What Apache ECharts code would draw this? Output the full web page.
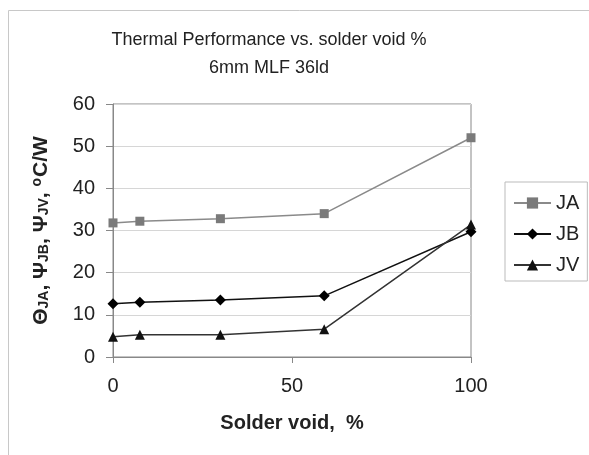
<!DOCTYPE html>
<html>
<head>
<meta charset="utf-8">
<script src="https://cdn.jsdelivr.net/npm/echarts@6/dist/echarts.min.js"></script>
<style>
  html, body { margin: 0; padding: 0; background: #fff; }
  #main { width: 589px; height: 455px; }
</style>
</head>
<body>
<div id="main"></div>
<script>
// solder void (%) on x
const voidPct = [0, 7.5, 30, 59, 100];
// thermal values, °C/W
const jaVals = [31.8, 32.2, 32.8, 34.0, 52.0];
const jbVals = [12.6, 13.0, 13.5, 14.5, 29.7];
const jvVals = [4.8, 5.3, 5.3, 6.6, 31.4];
const seriesNames = ['JA', 'JB', 'JV'];

// x,y pairs for the value axis
function toPairs(xs, ys) {
    let out = [];
    for (let i = 0; i < xs.length; i++) {
        out.push([xs[i], ys[i]]);
    }
    return out;
}

const font = 'Liberation Sans, Arial, sans-serif';
let myChart = echarts.init(document.getElementById('main'));

let option = {
    backgroundColor: '#fff',
    animation: false,
    textStyle: { fontFamily: font, color: '#222' },
    graphic: [{
        type: 'rect',
        shape: { x: 8.5, y: 10.5, width: 620, height: 500 },
        style: { fill: 'none', stroke: '#c8c8c8', lineWidth: 1 },
        silent: true
    }],
    title: {
        text: 'Thermal Performance vs. solder void %\n6mm MLF 36ld',
        left: 264,
        textAlign: 'center',
        top: 21,
        textStyle: { fontFamily: font, fontSize: 18, fontWeight: 'normal', color: '#222', lineHeight: 28 }
    },
    legend: {
        data: seriesNames,
        orient: 'vertical',
        left: 505,
        top: 182,
        padding: [11, 8, 6, 8],
        itemGap: 11,
        itemWidth: 37,
        itemHeight: 14,
        borderColor: '#bbb',
        borderWidth: 1,
        textStyle: { fontFamily: font, fontSize: 20, color: '#222' }
    },
    grid: {
        left: 113,
        right: 118,
        top: 104,
        bottom: 98,
        show: true,
        borderColor: '#888',
        borderWidth: 1
    },
    xAxis: {
        type: 'value',
        min: 0,
        max: 100,
        interval: 50,
        name: 'Solder void,  %',
        nameLocation: 'middle',
        nameGap: 56,
        nameTextStyle: { fontFamily: font, fontSize: 20, fontWeight: 'bold', color: '#222' },
        axisLine: { show: true, lineStyle: { color: '#888' } },
        axisTick: { show: true, length: 6, lineStyle: { color: '#888' } },
        axisLabel: { fontFamily: font, fontSize: 20, color: '#222', margin: 19 },
        splitLine: { show: false }
    },
    yAxis: {
        type: 'value',
        min: 0,
        max: 60,
        interval: 10,
        name: '{b|Θ}{s|JA}{b|, Ψ}{s|JB}{b|, Ψ}{s|JV}{b|, }{u|o}{b|C/W}',
        nameLocation: 'middle',
        nameGap: 60,
        nameRotate: 90,
        nameTextStyle: {
            rich: {
                b: { fontFamily: font, fontSize: 21, fontWeight: 'bold', color: '#222', lineHeight: 24, verticalAlign: 'middle' },
                s: { fontFamily: font, fontSize: 14, fontWeight: 'bold', color: '#222', lineHeight: 24, verticalAlign: 'bottom', padding: [0, 0, 2, 0] },
                u: { fontFamily: font, fontSize: 14, fontWeight: 'bold', color: '#222', lineHeight: 24, verticalAlign: 'top', padding: [1, 1, 0, 0] }
            }
        },
        axisLine: { show: true, lineStyle: { color: '#888' } },
        axisTick: { show: true, length: 7, lineStyle: { color: '#888' } },
        axisLabel: { fontFamily: font, fontSize: 20, color: '#222', margin: 18 },
        splitLine: { show: true, lineStyle: { color: '#d6d6d6', width: 1 } }
    },
    series: [
        {
            name: 'JA',
            type: 'line',
            data: toPairs(voidPct, jaVals),
            symbol: 'rect',
            symbolSize: 9,
            itemStyle: { color: '#7a7a7a' },
            lineStyle: { color: '#8a8a8a', width: 1.5 }
        },
        {
            name: 'JB',
            type: 'line',
            data: toPairs(voidPct, jbVals),
            symbol: 'diamond',
            symbolSize: 11,
            itemStyle: { color: '#000' },
            lineStyle: { color: '#111', width: 1.5 }
        },
        {
            name: 'JV',
            type: 'line',
            data: toPairs(voidPct, jvVals),
            symbol: 'triangle',
            symbolSize: 10,
            itemStyle: { color: '#111' },
            lineStyle: { color: '#333', width: 1.5 }
        }
    ]
};

myChart.setOption(option);
</script>
</body>
</html>
